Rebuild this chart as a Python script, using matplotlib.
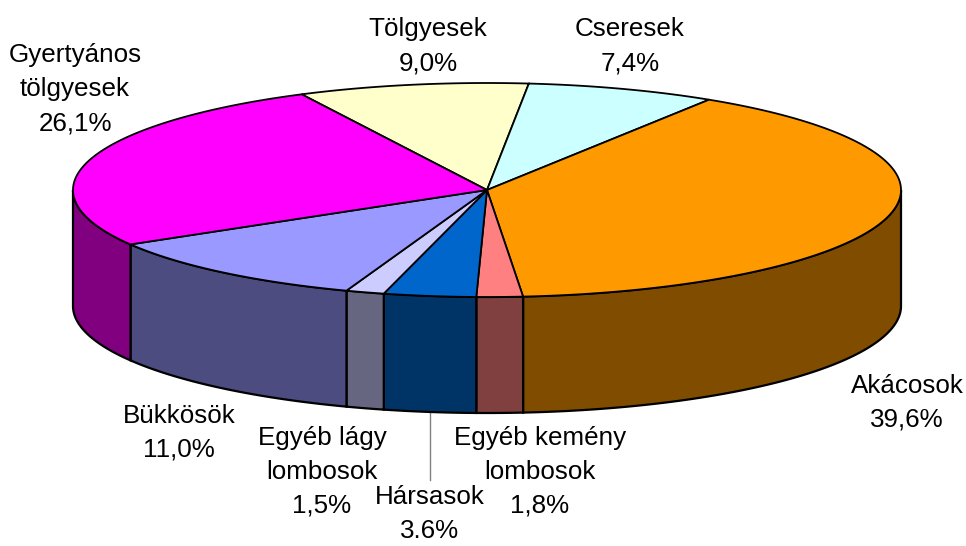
import numpy as np
import matplotlib
matplotlib.use("Agg")
import matplotlib.pyplot as plt
from matplotlib.patches import Polygon

labels = ["Tölgyesek\n9,0%", "Cseresek\n7,4%", "Akácosok\n39,6%",
          "Egyéb kemény\nlombosok\n1,8%", "Hársasok\n3.6%",
          "Egyéb lágy\nlombosok\n1,5%", "Bükkösök\n11,0%",
          "Gyertyános\ntölgyesek\n26,1%"]
values = [9.0, 7.4, 39.6, 1.8, 3.6, 1.5, 11.0, 26.1]
top_colors = ["#FFFFCC", "#CCFFFF", "#FF9900", "#FF8080", "#0066CC",
              "#CCCCFF", "#9999FF", "#FF00FF"]
side_colors = ["#80806A", "#6A8080", "#7F4C00", "#804040", "#003366",
               "#666680", "#4C4C80", "#800080"]

# layout (pixels)
cx, cy, rx, ry, depth = 487, 190, 414, 107, 116
start = 116.6
label_pos = [(428, 46), (630, 46), (907, 403), (540, 472), (430, 514),
             (322, 472), (179, 433), (75, 89)]
line_h = 34

plt.rcParams["font.family"] = ["Liberation Sans", "DejaVu Sans"]

fig = plt.figure(figsize=(9.66, 5.46), dpi=100)
ax = fig.add_axes([0, 0, 1, 1])
ax.set_xlim(0, 966)
ax.set_ylim(546, 0)
ax.axis("off")


def arc(a0, a1, dy=0.0, n=200):
    t = np.deg2rad(np.linspace(a0, a1, n))
    return np.column_stack([cx + rx * np.cos(t), cy - ry * np.sin(t) + dy])


total = sum(values)
a = start
bounds = []
for v in values:
    b = a - v / total * 360.0
    bounds.append((a, b))
    a = b

# front side walls
for (a0, a1), sc in zip(bounds, side_colors):
    hi = min(a0, 0.0)
    lo = max(a1, -180.0)
    if hi <= lo:
        continue
    top = arc(hi, lo)
    bot = arc(lo, hi, dy=depth)
    ax.add_patch(Polygon(np.vstack([top, bot]), closed=True, facecolor=sc,
                         edgecolor="black", lw=1.6, zorder=1))

# top faces
for (a0, a1), tc in zip(bounds, top_colors):
    pts = np.vstack([[cx, cy], arc(a0, a1)])
    ax.add_patch(Polygon(pts, closed=True, facecolor=tc,
                         edgecolor="black", lw=1.3, zorder=2))

# labels, one text per line so the blocks don't collide
for txt, (x, y) in zip(labels, label_pos):
    rows = txt.split("\n")
    n = len(rows)
    for i, row in enumerate(rows):
        yy = y + (i - (n - 1) / 2) * line_h
        ax.text(x, yy, row, ha="center", va="center", fontsize=18.7,
                zorder=3)

# leader line for Hársasok
mid = np.deg2rad((bounds[4][0] + bounds[4][1]) / 2)
lx = cx + rx * np.cos(mid)
ly = cy - ry * np.sin(mid) + depth
ax.plot([lx, lx], [ly, 480], color="#808080", lw=1, zorder=0)

fig.savefig("out.png", dpi=100)
